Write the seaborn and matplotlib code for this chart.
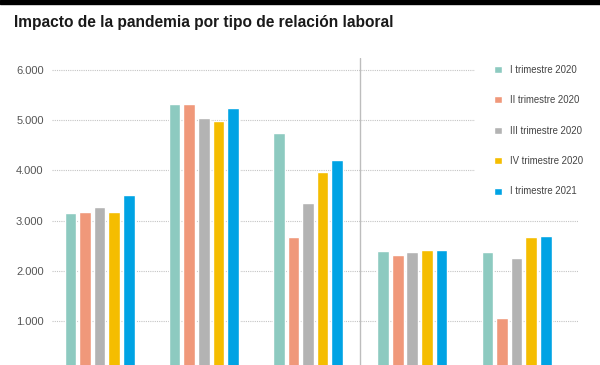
import matplotlib
matplotlib.use("Agg")
import pandas as pd
import matplotlib.pyplot as plt
import seaborn as sns
from matplotlib.patches import Rectangle
from matplotlib.ticker import FuncFormatter

# Data (x-axis labels are cropped in the reference)
categorias = ["Categoría 1", "Categoría 2", "Categoría 3", "Categoría 4", "Categoría 5"]
trimestres = ["I trimestre 2020", "II trimestre 2020", "III trimestre 2020",
              "IV trimestre 2020", "I trimestre 2021"]
t1_2020 = [3140, 5330, 4735, 2390, 2377]
t2_2020 = [3173, 5313, 2663, 2305, 1050]
t3_2020 = [3273, 5034, 3353, 2370, 2245]
t4_2020 = [3173, 4980, 3964, 2404, 2675]
t1_2021 = [3512, 5253, 4197, 2404, 2689]
colores = ["#8DCAC0", "#F0987A", "#B3B3B3", "#F5BD00", "#00A3E4"]

series = [t1_2020, t2_2020, t3_2020, t4_2020, t1_2021]
rows = []
for trim, vals in zip(trimestres, series):
    for cat, v in zip(categorias, vals):
        rows.append({"categoria": cat, "trimestre": trim, "valor": v})
df = pd.DataFrame(rows)

sns.set_style("white")
plt.rcParams["font.family"] = ["Liberation Sans", "DejaVu Sans"]

fig = plt.figure(figsize=(6, 3.65), dpi=100)
ax = fig.add_axes([0.0867, -0.0164, 0.8767, 0.8575])

sns.barplot(data=df, x="categoria", y="valor", hue="trimestre", palette=colores,
            saturation=1, width=0.7, gap=0.2, ax=ax)

ax.set_xlim(-0.456, 4.59)
ax.set_ylim(0, 6240)
ax.set_yticks(range(0, 7000, 1000))
ax.yaxis.set_major_formatter(FuncFormatter(lambda v, p: f"{int(v):,}".replace(",", ".")))
ax.tick_params(axis="y", length=0, pad=6, labelsize=8, labelcolor="#555555")
ax.tick_params(axis="x", length=0, labelbottom=False)
ax.set_xlabel("")
ax.set_ylabel("")
sns.despine(ax=ax, left=True, bottom=True)
ax.yaxis.grid(True, linestyle=(0, (1, 1)), color="#c4c4c4", linewidth=0.8)
ax.set_axisbelow(True)

# separator
ax.axvline(2.5, color="#bdbdbd", linewidth=1, zorder=0.6)

# legend
handles, labels = ax.get_legend_handles_labels()
leg = ax.legend(handles, labels, loc="upper left", bbox_to_anchor=(0.784, 0.888),
                bbox_transform=fig.transFigure, frameon=True, facecolor="white",
                edgecolor="none", framealpha=1, fancybox=False,
                handlelength=0.75, handleheight=0.75, handletextpad=0.9,
                labelspacing=2.13, borderpad=2.0,
                prop={"family": ["Liberation Sans Narrow", "Liberation Sans"], "size": 6.9})
for t in leg.get_texts():
    t.set_color("#444444")

# title and top black band
fig.text(14 / 600, 1 - 22 / 365, "Impacto de la pandemia por tipo de relación laboral",
         fontsize=11.2, fontweight="bold", va="center", ha="left", color="#1a1a1a",
         family=["Liberation Sans Narrow", "Liberation Sans"])
fig.add_artist(Rectangle((0, 1 - 4 / 365), 1, 4 / 365, transform=fig.transFigure,
                         color="black"))

fig.savefig("out.png", dpi=100)
